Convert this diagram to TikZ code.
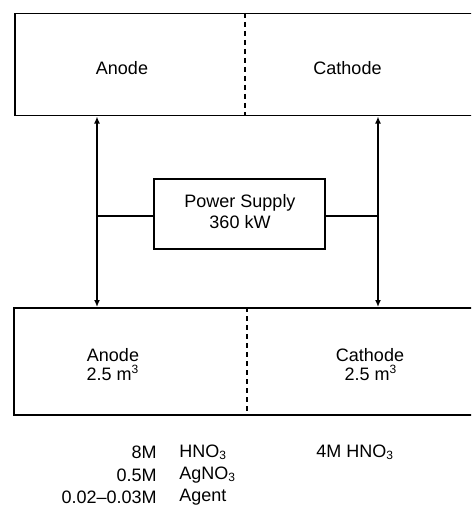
\documentclass[tikz,border=0pt]{standalone}
\usepackage{fontspec}
\setmainfont{Liberation Sans}
\usetikzlibrary{arrows.meta}
\begin{document}
\begin{tikzpicture}[x=0.5pt,y=-0.5pt,
  box/.style={draw,line width=0.75pt,rectangle,inner sep=0pt,anchor=north west},
  divider/.style={line width=0.7pt,dash pattern=on 2.5pt off 2pt},
  conn/.style={line width=0.75pt},
  dbl/.style={line width=0.75pt,{Latex[length=3.5pt,width=3pt]}-{Latex[length=3.5pt,width=3pt]}},
  lbl/.style={font=\fontsize{9}{9.5}\selectfont,inner sep=0pt},
]
\useasboundingbox (0,0) rectangle (471,508);
\clip (0,0) rectangle (471,508);
% boxes
\node[box,minimum width=240pt,minimum height=51pt] (top) at (14,13) {};
\node[box,minimum width=240pt,minimum height=53.5pt] (bot) at (13,307) {};
\node[box,minimum width=85.5pt,minimum height=35pt] (ps) at (153,178) {};
% dividers
\coordinate (dt) at (245,0);
\coordinate (db) at (247,0);
\draw[divider] (top.north -| dt) -- (top.south -| dt);
\draw[divider] (bot.north -| db) -- (bot.south -| db);
% arrows
\coordinate (aL) at (97,0);
\coordinate (aR) at (378,0);
\draw[dbl] (top.south -| aL) -- (bot.north -| aL);
\draw[dbl] (top.south -| aR) -- (bot.north -| aR);
\coordinate (lvl) at (0,216);
\draw[conn] (ps.west |- lvl) -- (aL |- lvl);
\draw[conn] (ps.east |- lvl) -- (aR |- lvl);
% labels
\node[lbl] (tA) at (122,68) {Anode};
\node[lbl] (tC) at (347.5,68) {Cathode};
\node[lbl] (ps1) at (240,203) {Power Supply};
\node[lbl] (ps2) at (240,222) {360 kW};
\node[lbl] (bA) at (113,355) {Anode};
\node[lbl] (bAv) at (113,373) {2.5 m\textsuperscript{3}};
\node[lbl] (bC) at (370,355) {Cathode};
\node[lbl] (bCv) at (371,373) {2.5 m\textsuperscript{3}};
% concentrations
\node[lbl,anchor=east] (c1) at (157,452) {8M};
\node[lbl,anchor=west] (f1) at (179,452) {HNO\textsubscript{3}};
\node[lbl,anchor=east] (c2) at (157,475) {0.5M};
\node[lbl,anchor=west] (f2) at (179,475) {AgNO\textsubscript{3}};
\node[lbl,anchor=east] (c3) at (157,497) {0.02--0.03M};
\node[lbl,anchor=west] (f3) at (179,497) {Agent};
\node[lbl,anchor=west] (c4) at (316,452) {4M HNO\textsubscript{3}};
\end{tikzpicture}
\end{document}
